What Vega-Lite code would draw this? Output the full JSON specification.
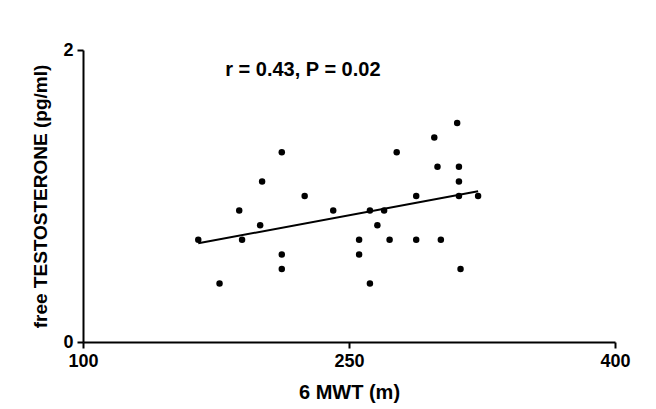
{
  "$schema": "https://vega.github.io/schema/vega-lite/v6.json",
  "width": 532,
  "height": 292,
  "autosize": "none",
  "padding": {"left": 83, "top": 50, "right": 41, "bottom": 67},
  "background": "white",
  "config": {
    "view": {"stroke": null},
    "font": "Liberation Sans",
    "axis": {
      "grid": false,
      "domainColor": "black",
      "domainWidth": 2,
      "tickColor": "black",
      "tickWidth": 2,
      "tickSize": 6,
      "labelFont": "Liberation Sans",
      "labelFontWeight": "bold",
      "labelFontSize": 18,
      "labelColor": "black",
      "titleFont": "Liberation Sans",
      "titleFontWeight": "bold",
      "titleFontSize": 19,
      "titleColor": "black"
    }
  },
  "datasets": {
    "points": [
      {"mwt": 165.0, "ft": 0.7},
      {"mwt": 177.0, "ft": 0.4},
      {"mwt": 188.1, "ft": 0.9},
      {"mwt": 189.7, "ft": 0.7},
      {"mwt": 199.9, "ft": 0.8},
      {"mwt": 201.0, "ft": 1.1},
      {"mwt": 212.1, "ft": 1.3},
      {"mwt": 212.1, "ft": 0.6},
      {"mwt": 212.1, "ft": 0.5},
      {"mwt": 225.0, "ft": 1.0},
      {"mwt": 241.1, "ft": 0.9},
      {"mwt": 255.7, "ft": 0.7},
      {"mwt": 255.7, "ft": 0.6},
      {"mwt": 261.8, "ft": 0.9},
      {"mwt": 261.8, "ft": 0.4},
      {"mwt": 266.0, "ft": 0.8},
      {"mwt": 269.8, "ft": 0.9},
      {"mwt": 272.9, "ft": 0.7},
      {"mwt": 276.9, "ft": 1.3},
      {"mwt": 287.9, "ft": 1.0},
      {"mwt": 287.9, "ft": 0.7},
      {"mwt": 298.1, "ft": 1.4},
      {"mwt": 299.9, "ft": 1.2},
      {"mwt": 301.8, "ft": 0.7},
      {"mwt": 311.0, "ft": 1.5},
      {"mwt": 312.0, "ft": 1.2},
      {"mwt": 312.0, "ft": 1.1},
      {"mwt": 312.0, "ft": 1.0},
      {"mwt": 312.9, "ft": 0.5},
      {"mwt": 322.8, "ft": 1.0}
    ],
    "fit": [
      {"mwt": 165.0, "ft": 0.676},
      {"mwt": 322.8, "ft": 1.032}
    ],
    "note": [
      {"mwt": 224, "ft": 1.86, "label": "r = 0.43, P = 0.02"}
    ]
  },
  "layer": [
    {
      "data": {"name": "points"},
      "mark": {"type": "point", "filled": true, "color": "black", "opacity": 1, "size": 42},
      "encoding": {
        "x": {
          "field": "mwt", "type": "quantitative",
          "scale": {"domain": [100, 400], "nice": false, "zero": false},
          "axis": {"values": [100, 250, 400], "format": "d", "title": "6 MWT (m)", "titleFontSize": 20, "labelPadding": 4, "titlePadding": 12, "labelFlush": false}
        },
        "y": {
          "field": "ft", "type": "quantitative",
          "scale": {"domain": [0, 2], "nice": false},
          "axis": {"values": [0, 1, 2], "format": "d", "title": "free TESTOSTERONE (pg/ml)", "labelPadding": 4, "titlePadding": 12, "labelFlush": false}
        }
      }
    },
    {
      "data": {"name": "fit"},
      "mark": {"type": "line", "color": "black", "strokeWidth": 2},
      "encoding": {
        "x": {"field": "mwt", "type": "quantitative"},
        "y": {"field": "ft", "type": "quantitative"}
      }
    },
    {
      "data": {"name": "note"},
      "mark": {"type": "text", "font": "Liberation Sans", "fontWeight": "bold", "fontSize": 20, "color": "black", "align": "center", "baseline": "middle"},
      "encoding": {
        "x": {"field": "mwt", "type": "quantitative"},
        "y": {"field": "ft", "type": "quantitative"},
        "text": {"field": "label"}
      }
    }
  ]
}
